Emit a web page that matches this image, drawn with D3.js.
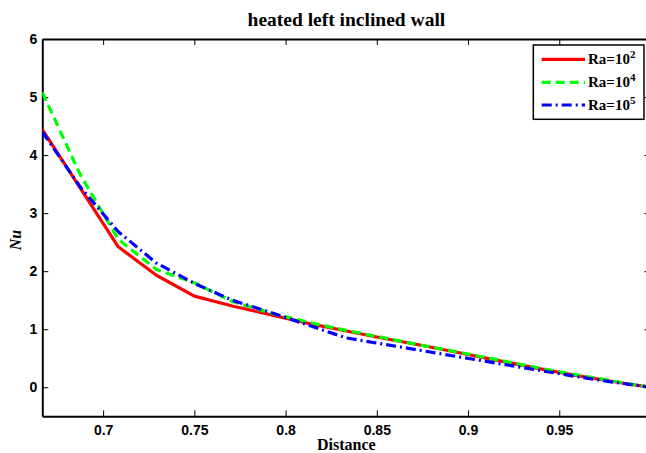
<!DOCTYPE html>
<html>
<head>
<meta charset="utf-8">
<script src="https://cdn.jsdelivr.net/npm/d3@7"></script>
<style>
  body { margin: 0; background: #fff; overflow: hidden; }
  svg { display: block; }
  .tick text { font-family: "Liberation Sans", Arial, sans-serif; font-weight: bold; font-size: 14px; fill: #000; }
</style>
</head>
<body>
<svg id="chart" width="646" height="453"></svg>
<script>
// data
var distance = [0.6667, 0.6875, 0.7083, 0.7292, 0.75, 0.7708, 0.7917, 0.8125, 0.8333,
                0.8542, 0.875, 0.8958, 0.9167, 0.9375, 0.9583, 0.9792, 1.0];
var nuRa1e2 = [4.44, 3.43, 2.42, 1.93, 1.57, 1.40, 1.25, 1.10, 0.97, 0.84, 0.72, 0.59, 0.46, 0.33, 0.21, 0.10, 0.0];
var nuRa1e4 = [5.08, 3.66, 2.55, 2.03, 1.80, 1.48, 1.28, 1.12, 0.98, 0.85, 0.72, 0.60, 0.47, 0.34, 0.22, 0.11, 0.0];
var nuRa1e5 = [4.40, 3.45, 2.68, 2.14, 1.79, 1.50, 1.29, 1.07, 0.85, 0.74, 0.63, 0.52, 0.41, 0.30, 0.19, 0.09, 0.0];
var seriesNames = ["2", "4", "5"];
var xTicks = [0.7, 0.75, 0.8, 0.85, 0.9, 0.95];
var yTicks = [0, 1, 2, 3, 4, 5, 6];

var LEFT = 42.3, RIGHT = 650.5, TOP = 39, BOTTOM = 416.3;

var svg = d3.select("#chart");

var x = d3.scaleLinear().domain([2 / 3, 1]).range([LEFT, RIGHT]);
var y = d3.scaleLinear().domain([-0.5, 6]).range([BOTTOM, TOP]);

svg.append("clipPath").attr("id", "plotclip")
  .append("rect")
  .attr("x", LEFT).attr("y", TOP)
  .attr("width", RIGHT - LEFT).attr("height", BOTTOM - TOP);

// axes, ticks pointing inward like matlab
var gx = svg.append("g")
  .attr("transform", "translate(0," + BOTTOM + ")")
  .call(d3.axisBottom(x).tickValues(xTicks).tickSizeInner(-6).tickSizeOuter(0).tickPadding(9)
    .tickFormat(function(d) { return d; }));

var gxTop = svg.append("g")
  .attr("transform", "translate(0," + TOP + ")")
  .call(d3.axisTop(x).tickValues(xTicks).tickSizeInner(-6).tickSizeOuter(0).tickFormat(""));

var gy = svg.append("g")
  .attr("transform", "translate(" + LEFT + ",0)")
  .call(d3.axisLeft(y).tickValues(yTicks).tickSizeInner(-6).tickSizeOuter(0).tickPadding(5)
    .tickFormat(function(d) { return d; }));

var gyRight = svg.append("g")
  .attr("transform", "translate(" + RIGHT + ",0)")
  .call(d3.axisRight(y).tickValues(yTicks).tickSizeInner(-6).tickSizeOuter(0).tickFormat(""));

[gx, gxTop, gy, gyRight].forEach(function(g) {
  g.selectAll(".tick line").attr("stroke", "#000").attr("stroke-width", 1);
  g.select(".domain").attr("stroke", "#000").attr("stroke-width", 2);
});

// the curves
var line = d3.line()
  .x(function(d) { return x(d[0]); })
  .y(function(d) { return y(d[1]); });

var series = [
  { values: nuRa1e2, color: "#ff0000", dash: null },
  { values: nuRa1e4, color: "#00ff00", dash: "9,5" },
  { values: nuRa1e5, color: "#0000ff", dash: "10,4,2,4" }
];

var plot = svg.append("g").attr("clip-path", "url(#plotclip)");
series.forEach(function(s) {
  var pts = distance.map(function(d, i) { return [d, s.values[i]]; });
  plot.append("path")
    .attr("d", line(pts))
    .attr("fill", "none")
    .attr("stroke", s.color)
    .attr("stroke-width", 3.2)
    .attr("stroke-dasharray", s.dash)
    .attr("stroke-linejoin", "round");
});

// title and axis labels
svg.append("text")
  .attr("x", (LEFT + RIGHT) / 2).attr("y", 26)
  .attr("text-anchor", "middle")
  .style("font-family", "'Liberation Serif', 'Times New Roman', serif")
  .style("font-weight", "bold")
  .style("font-size", "19.5px")
  .text("heated left inclined wall");

svg.append("text")
  .attr("x", (LEFT + RIGHT) / 2).attr("y", 450)
  .attr("text-anchor", "middle")
  .style("font-family", "'Liberation Serif', 'Times New Roman', serif")
  .style("font-weight", "bold")
  .style("font-size", "16px")
  .text("Distance");

svg.append("text")
  .attr("transform", "translate(21,240) rotate(-90)")
  .attr("text-anchor", "middle")
  .style("font-family", "'Liberation Serif', 'Times New Roman', serif")
  .style("font-weight", "bold")
  .style("font-style", "italic")
  .style("font-size", "16px")
  .text("Nu");

// legend
var legend = svg.append("g");
legend.append("rect")
  .attr("x", 533.3).attr("y", 45)
  .attr("width", 110.7).attr("height", 74.3)
  .attr("fill", "#fff").attr("stroke", "#000").attr("stroke-width", 1.5);

var rowY = [59.3, 82.3, 105];
series.forEach(function(s, i) {
  legend.append("line")
    .attr("x1", 541.7).attr("x2", 585)
    .attr("y1", rowY[i]).attr("y2", rowY[i])
    .attr("stroke", s.color).attr("stroke-width", 3.2)
    .attr("stroke-dasharray", s.dash);
  var t = legend.append("text")
    .attr("x", 588).attr("y", rowY[i] + 5)
    .style("font-family", "'Liberation Serif', 'Times New Roman', serif")
    .style("font-weight", "bold")
    .style("font-size", "15px");
  t.append("tspan").text("Ra=10");
  t.append("tspan").attr("dy", -6).style("font-size", "11px").text(seriesNames[i]);
});
</script>
</body>
</html>
